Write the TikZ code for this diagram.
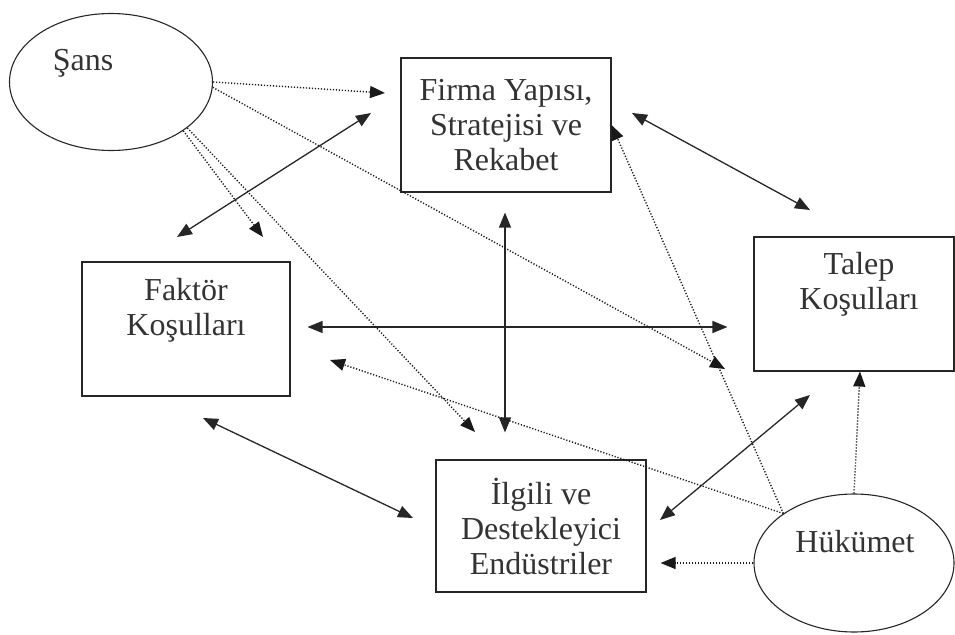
\documentclass[tikz,border=0pt]{standalone}
\usepackage{fontspec}
\setmainfont{Liberation Serif}
\usetikzlibrary{positioning,calc,shapes,arrows.meta}
\tikzstyle{box}=[rectangle,draw=black!85,line width=1.1pt,inner sep=0pt]
\tikzstyle{oval}=[ellipse,draw=black!85,line width=1.1pt,inner sep=0pt]
\tikzstyle{txt}=[align=center,font=\fontsize{32}{35}\selectfont,text=black!80]
\tikzstyle{both}=[{Triangle[length=15pt,width=12pt]}-{Triangle[length=15pt,width=12pt]},line width=1.3pt,draw=black!85]
\tikzstyle{hint}=[-{Triangle[length=15pt,width=12pt]},dash pattern=on 1.2pt off 1.8pt,line width=1.4pt,draw=black!90]

\begin{document}
\begin{tikzpicture}[x=1pt,y=-1pt]
  \useasboundingbox (0,0) rectangle (955,634);

  \node [oval, minimum width=203pt, minimum height=137pt] at (111,82)  (sans) {};
  \node [txt] at (83,63) (sans_txt) {Şans};
  \node [oval, minimum width=200pt, minimum height=138pt] at (854,563) (hukumet) {};
  \node [txt] at (855,542) (hukumet_txt) {Hükümet};

  \node [box, txt, minimum width=210pt, minimum height=134pt] at (506,125) (firma) {Firma Yapısı,\\Stratejisi ve\\Rekabet};
  \node [box, txt, minimum width=210pt, minimum height=132pt] at (541,526) (ilgili) {İlgili ve\\Destekleyici\\Endüstriler};
  \node [box, minimum width=208pt, minimum height=134pt] at (186,329) (faktor) {};
  \node [txt] at (186,310) (faktor_txt) {Faktör\\Koşulları};
  \node [box, minimum width=200pt, minimum height=134pt] at (854,304) (talep) {};
  \node [txt] at (859,284) (talep_txt) {Talep\\Koşulları};

  % free arrow ends
  \coordinate (fk_up)   at (177,237);
  \coordinate (fr_dn)   at (371,113);
  \coordinate (fr_rt)   at (632,113);
  \coordinate (tl_up)   at (810,210);
  \coordinate (fk_dn)   at (203,418);
  \coordinate (il_lt)   at (413,518);
  \coordinate (il_rt)   at (660,520);
  \coordinate (tl_dn)   at (810,395);
  \coordinate (fr_lt)   at (385,93);
  \coordinate (fk_in)   at (263,237);
  \coordinate (il_in)   at (475,432);
  \coordinate (tl_in)   at (725,369);
  \coordinate (fk_rt)   at (330,360);

  \draw [both] (fk_up) -- (fr_dn);
  \draw [both] (fr_rt) -- (tl_up);
  \draw [both, shorten <=20pt, shorten >=27pt] (firma.south -| 505,0) -- (ilgili.north -| 505,0);
  \draw [both, shorten <=17pt, shorten >=26pt] (faktor.east |- 0,327) -- (talep.west |- 0,327);
  \draw [both] (fk_dn) -- (il_lt);
  \draw [both] (il_rt) -- (tl_dn);

  \draw [hint] (sans.east) -- (fr_lt);
  \draw [hint] (sans.-3) -- (tl_in);
  \draw [hint] (sans.-34) -- (fk_in);
  \draw [hint] (sans.-31) -- (il_in);

  \draw [hint] (hukumet.145) -- (firma.east);
  \draw [hint] (hukumet.145) -- (fk_rt);
  \draw [hint] (hukumet.north) -- ([xshift=6pt]talep.south);
  \draw [hint, shorten >=14pt] (hukumet.west) -- (hukumet.west -| ilgili.east);
\end{tikzpicture}
\end{document}
